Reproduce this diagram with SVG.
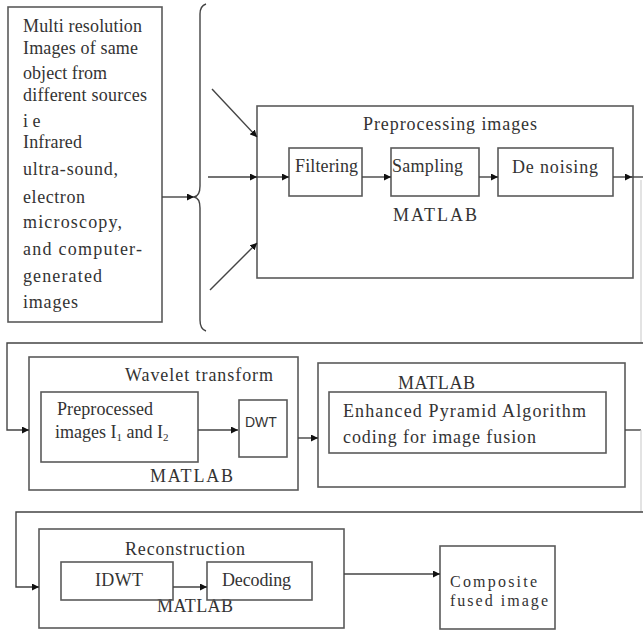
<svg xmlns="http://www.w3.org/2000/svg" width="643" height="631" viewBox="0 0 643 631">
<style>
.box{fill:none;stroke:#5a5a5a;stroke-width:1.6}
.ln{fill:none;stroke:#444;stroke-width:1.4}
.faint{fill:none;stroke:#d0d0d0;stroke-width:1.2}
text{font-family:"Liberation Serif","Times New Roman",serif;font-size:18px;fill:#333}
.sans{font-family:"Liberation Sans",Arial,sans-serif;font-size:14px}
.sub{font-size:11px}
.sm{font-size:16px}
</style>
<defs>
<marker id="ah" viewBox="0 0 10 10" refX="10" refY="5" markerWidth="7" markerHeight="7" markerUnits="userSpaceOnUse" orient="auto">
<path d="M0,0 L10,5 L0,10 z" fill="#111"/>
</marker>
</defs>

<g id="sources">
<rect class="box" x="8" y="7" width="154" height="315"/>
<text x="23" y="32" textLength="119" lengthAdjust="spacing">Multi resolution</text>
<text x="23" y="54" textLength="115" lengthAdjust="spacing">Images of same</text>
<text x="23" y="79" textLength="84" lengthAdjust="spacing">object from</text>
<text x="23" y="101" textLength="124" lengthAdjust="spacing">different sources</text>
<text x="23" y="127">i e</text>
<text x="23" y="148" textLength="59" lengthAdjust="spacing">Infrared</text>
<text x="23" y="175" textLength="95" lengthAdjust="spacing">ultra-sound,</text>
<text x="23" y="203" textLength="62" lengthAdjust="spacing">electron</text>
<text x="23" y="228" textLength="99" lengthAdjust="spacing">microscopy,</text>
<text x="23" y="255" textLength="119" lengthAdjust="spacing">and computer-</text>
<text x="23" y="282" textLength="79" lengthAdjust="spacing">generated</text>
<text x="23" y="308" textLength="55" lengthAdjust="spacing">images</text>
</g>

<g id="brace">
<path class="ln" d="M206,4 Q200,6 200,14 L200,186 Q200,196 194,197 Q200,198 200,208 L200,320 Q200,329 206,331"/>
</g>

<g id="preprocessing">
<rect class="box" x="257" y="106" width="376" height="172"/>
<text x="363" y="130" textLength="174" lengthAdjust="spacing">Preprocessing images</text>
<text x="393" y="221" textLength="84" lengthAdjust="spacing">MATLAB</text>
</g>
<g id="filtering">
<rect class="box" x="289" y="148" width="73" height="48"/>
<text x="295" y="172" textLength="63" lengthAdjust="spacing">Filtering</text>
</g>
<g id="sampling">
<rect class="box" x="391" y="148" width="88" height="48"/>
<text x="392" y="172" textLength="71" lengthAdjust="spacing">Sampling</text>
</g>
<g id="denoising">
<rect class="box" x="498" y="148" width="115" height="48"/>
<text x="512" y="173" textLength="86" lengthAdjust="spacing">De noising</text>
</g>

<g id="wavelet">
<rect class="box" x="29" y="357" width="269" height="133"/>
<text x="125" y="381" textLength="148" lengthAdjust="spacing">Wavelet transform</text>
<text x="150" y="482" textLength="83" lengthAdjust="spacing">MATLAB</text>
</g>
<g id="preprocessed">
<rect class="box" x="41" y="392" width="157" height="70"/>
<text x="57" y="415" textLength="96" lengthAdjust="spacing">Preprocessed</text>
<text x="55" y="438">images I<tspan class="sub" dy="3">1</tspan><tspan dy="-3"> and I</tspan><tspan class="sub" dy="3">2</tspan></text>
</g>
<g id="dwt">
<rect class="box" x="239" y="400" width="48" height="57"/>
<text class="sans" x="245" y="427">DWT</text>
</g>

<g id="epa">
<rect class="box" x="318" y="363" width="307" height="124"/>
<text x="398" y="389" textLength="77" lengthAdjust="spacing">MATLAB</text>
<rect class="box" x="329" y="392" width="277" height="61"/>
<text x="343" y="417" textLength="243" lengthAdjust="spacing">Enhanced Pyramid Algorithm</text>
<text x="343" y="443" textLength="193" lengthAdjust="spacing">coding for image fusion</text>
</g>

<g id="reconstruction">
<rect class="box" x="39" y="529" width="305" height="99"/>
<text x="125" y="555" textLength="120" lengthAdjust="spacing">Reconstruction</text>
<text x="157" y="612" textLength="76" lengthAdjust="spacing">MATLAB</text>
</g>
<g id="idwt">
<rect class="box" x="61" y="562" width="112" height="38"/>
<text x="95" y="586" textLength="48" lengthAdjust="spacing">IDWT</text>
</g>
<g id="decoding">
<rect class="box" x="207" y="562" width="105" height="38"/>
<text x="222" y="586" textLength="69" lengthAdjust="spacing">Decoding</text>
</g>

<g id="composite">
<rect class="box" x="440" y="546" width="115" height="83"/>
<text class="sm" x="450" y="587" textLength="87" lengthAdjust="spacing">Composite</text>
<text class="sm" x="450" y="606" textLength="98" lengthAdjust="spacing">fused image</text>
</g>

<g id="connectors">
<line class="ln" x1="162" y1="197" x2="194" y2="197" marker-end="url(#ah)"/>
<line class="ln" x1="212" y1="89" x2="257" y2="137" marker-end="url(#ah)"/>
<line class="ln" x1="208" y1="177" x2="257" y2="177" marker-end="url(#ah)"/>
<line class="ln" x1="210" y1="290" x2="257" y2="243" marker-end="url(#ah)"/>
<line class="ln" x1="257" y1="177" x2="289" y2="177" marker-end="url(#ah)"/>
<line class="ln" x1="362" y1="177" x2="391" y2="177" marker-end="url(#ah)"/>
<line class="ln" x1="479" y1="177" x2="498" y2="177" marker-end="url(#ah)"/>
<line class="ln" x1="613" y1="177" x2="632" y2="177" marker-end="url(#ah)"/>
<line class="ln" x1="630" y1="177" x2="643" y2="177"/>
<line class="faint" x1="641" y1="180" x2="641" y2="343"/>
<polyline class="ln" points="643,343 7,343 7,430 29,430" marker-end="url(#ah)"/>
<line class="ln" x1="198" y1="430" x2="238" y2="430" marker-end="url(#ah)"/>
<line class="ln" x1="298" y1="438" x2="318" y2="438" marker-end="url(#ah)"/>
<polyline class="ln" points="625,430 641,430"/>
<line class="faint" x1="641" y1="430" x2="641" y2="512"/>
<polyline class="ln" points="643,512 16,512 16,587 39,587" marker-end="url(#ah)"/>
<line class="ln" x1="173" y1="587" x2="207" y2="587" marker-end="url(#ah)"/>
<line class="ln" x1="344" y1="574" x2="440" y2="574" marker-end="url(#ah)"/>
</g>
</svg>
